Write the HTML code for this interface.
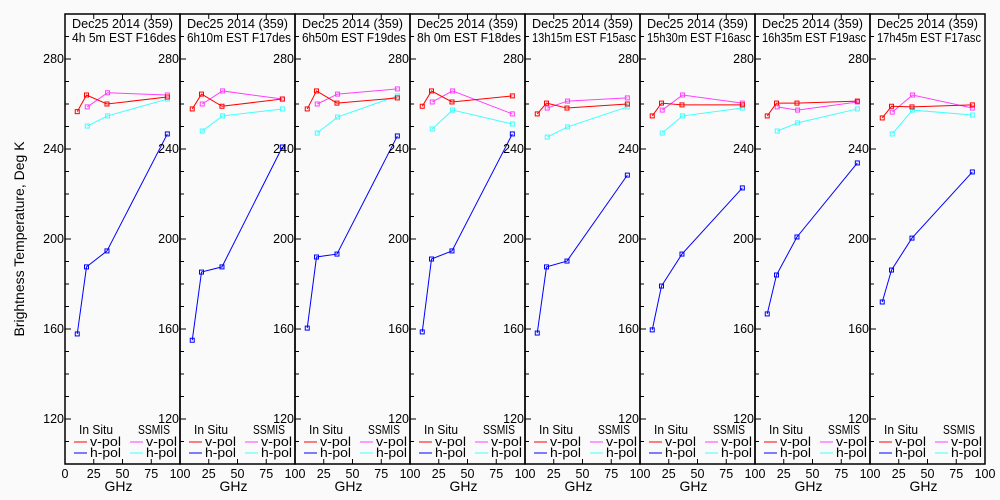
<!DOCTYPE html>
<html><head><meta charset="utf-8"><style>
body{margin:0;background:#fafafa;}
svg{display:block;font-family:"Liberation Sans",sans-serif;}
text{font-size:12.5px;fill:#000;}
</style></head><body>
<svg id="c" width="1000" height="500"></svg>
<script>
const titles = ["4h 5m EST F16des","6h10m EST F17des","6h50m EST F19des","8h 0m EST F18des","13h15m EST F15asc","15h30m EST F16asc","16h35m EST F19asc","17h45m EST F17asc"];
const insituFreq = [10.65, 18.7, 36.5, 89];
const ssmisFreq = [19.35, 37, 89];
const insituV = [[256.6,264,260,263.1],[257.8,264.4,259,262.2],[257.8,265.8,260.4,262.7],[259,265.8,260.9,263.6],[255.6,260.4,258.2,260],[254.7,260.4,259.6,259.6],[254.7,260.4,260.4,261.3],[253.8,259,258.7,259.6]];
const insituH = [[157.8,187.6,194.7,246.7],[155,185.3,187.6,240.9],[160.4,192,193.3,245.8],[158.7,191.1,194.7,246.7],[158.2,187.6,190.2,228.4],[159.6,179.1,193.3,222.7],[166.7,184,200.9,233.8],[172,186.2,200.4,229.8]];
const ssmisV = [[258.7,265,264],[260,265.8,262.2],[260,264.4,266.7],[260.9,265.8,255.6],[258.2,261.3,262.7],[257.3,264,260.4],[258.7,257.3,260.9],[256.4,264,258.2]];
const ssmisH = [[250.2,254.7,262.2],[248,254.7,257.8],[247.1,254.2,263.6],[248.9,257.3,251.1],[245.3,249.8,258.7],[247.1,254.7,258.2],[248,251.6,257.8],[246.7,257.3,255.1]];
const yTicks = [120,160,200,240,280];
const xTicks = [0,25,50,75,100];

const NS="http://www.w3.org/2000/svg", svg=document.getElementById('c');
function el(t,a,p){const e=document.createElementNS(NS,t);for(const k in a)e.setAttribute(k,a[k]);(p||svg).appendChild(e);return e;}
const L0=65,PW=115,TOP=14,BOT=464;
const yS=v=>TOP+(300-v)*(BOT-TOP)/200;
for(let p=0;p<8;p++){
  const x0=L0+p*PW, xS=f=>x0+f*PW/100;
  const g=el('g',{});
  
  
  const fr=el('rect',{x:x0,y:TOP,width:PW,height:BOT-TOP,fill:'none',stroke:'#000','stroke-width':1.5},g);
  
  
  for(let v=110;v<=290;v+=10){const y=yS(v);el('line',{x1:x0,x2:x0+(v%40===0?6:4),y1:y,y2:y,stroke:'#000'},g);}
  yTicks.forEach(v=>{const t=el('text',{x:x0-1,y:yS(v)+4,'text-anchor':'end'},g);t.textContent=v;
    });
  xTicks.forEach(f=>{const x=xS(f);el('line',{x1:x,x2:x,y1:BOT,y2:BOT-5,stroke:'#000'},g);el('line',{x1:x,x2:x,y1:TOP,y2:TOP+5,stroke:'#000'},g);
    if(p===0||f>0){const t=el('text',{x:x,y:BOT+14,'text-anchor':'middle'},g);t.textContent=f;
      }});
  const gl=el('text',{x:x0+PW/2-4,y:491,'text-anchor':'middle','style':'font-size:14px'},g);gl.textContent='GHz';
  
  const t1=el('text',{x:x0+7,y:28,textLength:101,lengthAdjust:'spacingAndGlyphs'},g);t1.textContent='Dec25 2014 (359)';
  
  const t2=el('text',{x:x0+7,y:42,textLength:104,lengthAdjust:'spacingAndGlyphs'},g);t2.textContent=titles[p];
  
  const series=[[insituFreq,insituH[p],'#0000ff','insitu-h-pol'],[ssmisFreq,ssmisH[p],'#40ffff','ssmis-h-pol'],[ssmisFreq,ssmisV[p],'#ff40ff','ssmis-v-pol'],[insituFreq,insituV[p],'#ff0000','insitu-v-pol']];
  series.forEach(([fx,vals,c,nm])=>{
    const pts=fx.map((f,i)=>xS(f)+','+yS(vals[i])).join(' ');
    const pl=el('polyline',{points:pts,fill:'none',stroke:c,'stroke-width':1},g);
    
    fx.forEach((f,i)=>{const r=el('rect',{x:xS(f)-2,y:yS(vals[i])-2,width:4,height:4,fill:'none',stroke:c},g);
      });
  });
  const lg=el('g',{},g);
  
  const a=el('text',{x:x0+14,y:434,textLength:34,lengthAdjust:'spacingAndGlyphs'},lg);a.textContent='In Situ';
  const b=el('text',{x:x0+73,y:434,textLength:32,lengthAdjust:'spacingAndGlyphs'},lg);b.textContent='SSMIS';
  [['v-pol','#ff0000','#ff40ff',446],['h-pol','#0000ff','#40ffff',457]].forEach(([lb,c1,c2,y])=>{
    el('line',{x1:x0+9,x2:x0+22,y1:y-4,y2:y-4,stroke:c1},lg);
    const t=el('text',{x:x0+25,y:y,textLength:31,lengthAdjust:'spacingAndGlyphs'},lg);t.textContent=lb;
    el('line',{x1:x0+65,x2:x0+78,y1:y-4,y2:y-4,stroke:c2},lg);
    const u=el('text',{x:x0+81,y:y,textLength:31,lengthAdjust:'spacingAndGlyphs'},lg);u.textContent=lb;
  });
}
const yt=el('text',{x:24,y:239,'text-anchor':'middle',transform:'rotate(-90 24 239)',style:'font-size:14px'});
yt.textContent='Brightness Temperature, Deg K';


</script>
</body></html>
